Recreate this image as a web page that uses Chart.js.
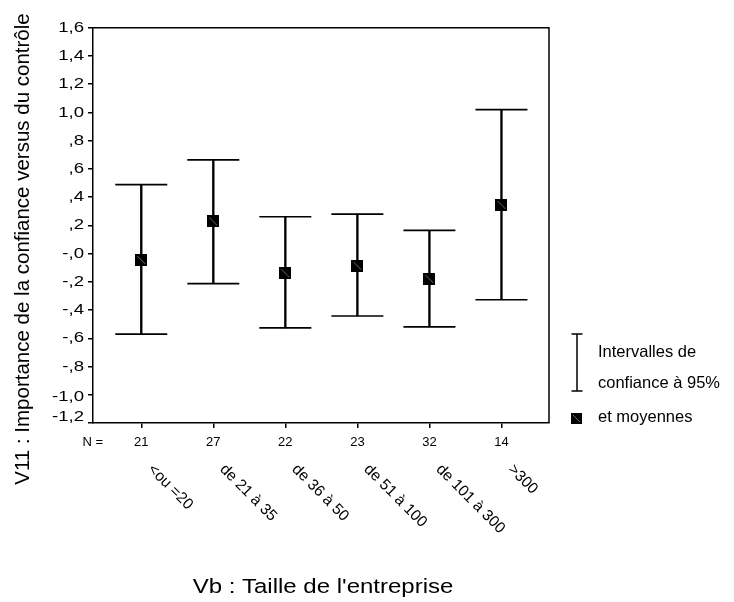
<!DOCTYPE html>
<html><head><meta charset="utf-8">
<script src="https://cdn.jsdelivr.net/npm/chart.js@4.4.1/dist/chart.umd.min.js"></script>
<style>html,body{margin:0;padding:0;background:#fff}#wrap{width:734px;height:602px}</style>
</head><body><div id="wrap"><canvas id="c" width="734" height="602"></canvas></div>
<script>
const categories = ['<ou =20', 'de 21 à 35', 'de 36 à 50', 'de 51 à 100', 'de 101 à 300', '>300'];
const nCounts = [21, 27, 22, 23, 32, 14];
const means = [-0.045, 0.228, -0.139, -0.087, -0.180, 0.345];
const ciLower = [-0.570, -0.213, -0.526, -0.442, -0.519, -0.327];
const ciUpper = [0.489, 0.664, 0.261, 0.279, 0.165, 1.019];
const yTickValues = [-1.2, -1.0, -0.8, -0.6, -0.4, -0.2, 0, 0.2, 0.4, 0.6, 0.8, 1.0, 1.2, 1.4, 1.6];
const yTickLabels = ['-1,2', '-1,0', '-,8', '-,6', '-,4', '-,2', '-,0', ',2', ',4', ',6', ',8', '1,0', '1,2', '1,4', '1,6'];
const yTitle = 'V11 : Importance de la confiance versus du contrôle';
const xTitle = "Vb : Taille de l'entreprise";
const nLabel = 'N =';
const legendCI = ['Intervalles de', 'confiance à 95%'];
const legendMean = 'et moyennes';

const FONT = '"Liberation Sans", Arial, sans-serif';

function makeMarker(size) {
  const c = document.createElement('canvas');
  c.width = size; c.height = size;
  const g = c.getContext('2d');
  g.fillStyle = '#000';
  g.fillRect(0, 0, size, size);
  g.strokeStyle = '#6a6a6a';
  g.lineWidth = 1;
  g.beginPath(); g.moveTo(2, 2); g.lineTo(size - 2, size - 2); g.stroke();
  return c;
}
const marker = makeMarker(12);
const legendMarker = makeMarker(11);

const decor = {
  id: 'decor',
  afterDraw(chart) {
    const ctx = chart.ctx;
    const a = chart.chartArea;
    const xs = chart.scales.x, ys = chart.scales.y;
    ctx.save();
    // frame top & right
    ctx.strokeStyle = '#000';
    ctx.lineWidth = 1.5;
    ctx.beginPath();
    ctx.moveTo(a.left, a.top); ctx.lineTo(a.right, a.top); ctx.lineTo(a.right, a.bottom);
    ctx.stroke();
    ctx.fillStyle = '#000';
    // y tick labels
    ctx.font = '15px ' + FONT;
    ctx.textAlign = 'right';
    ctx.textBaseline = 'middle';
    yTickValues.forEach((v, i) => {
      let y = ys.getPixelForValue(v);
      if (i === 0) y -= 6;
      if (i === 1) y += 2;
      ctx.save();
      ctx.translate(a.left - 9, y);
      ctx.scale(1.24, 1);
      ctx.fillText(yTickLabels[i], 0, 0);
      ctx.restore();
    });
    // N row
    ctx.font = '13px ' + FONT;
    ctx.textAlign = 'right';
    ctx.fillText(nLabel, a.left + 10, a.bottom + 19);
    ctx.textAlign = 'center';
    categories.forEach((c, i) => {
      ctx.fillText(String(nCounts[i]), xs.getPixelForValue(i + 1), a.bottom + 19);
    });
    // category labels rotated
    ctx.font = '15.5px ' + FONT;
    ctx.textAlign = 'left';
    ctx.textBaseline = 'middle';
    categories.forEach((c, i) => {
      ctx.save();
      ctx.translate(xs.getPixelForValue(i + 1) + 9, a.bottom + 44);
      ctx.rotate(Math.PI / 4);
      ctx.fillText(c, 0, 0);
      ctx.restore();
    });
    // x title
    ctx.font = '20px ' + FONT;
    ctx.textAlign = 'center';
    ctx.save();
    ctx.translate((a.left + a.right) / 2 + 2, 587);
    ctx.scale(1.2, 1);
    ctx.fillText(xTitle, 0, 0);
    ctx.restore();
    // y title
    ctx.font = '20.5px ' + FONT;
    ctx.save();
    ctx.translate(23, 249);
    ctx.rotate(-Math.PI / 2);
    ctx.fillText(yTitle, 0, 0);
    ctx.restore();
    // legend
    const lx = a.right + 28;
    ctx.lineWidth = 1.5;
    ctx.beginPath();
    ctx.moveTo(lx, 334); ctx.lineTo(lx, 391);
    ctx.moveTo(lx - 5.5, 334); ctx.lineTo(lx + 5.5, 334);
    ctx.moveTo(lx - 5.5, 391); ctx.lineTo(lx + 5.5, 391);
    ctx.stroke();
    ctx.drawImage(legendMarker, lx - 6, 413);
    ctx.font = '16.5px ' + FONT;
    ctx.textAlign = 'left';
    ctx.fillText(legendCI[0], lx + 21, 352);
    ctx.fillText(legendCI[1], lx + 21, 383);
    ctx.fillText(legendMean, lx + 21, 417);
    ctx.restore();
  }
};

new Chart(document.getElementById('c'), {
  type: 'bar',
  data: {
    datasets: [
      {
        type: 'bar',
        data: categories.map((c, i) => ({ x: i + 1, y: [ciLower[i], ciUpper[i]] })),
        backgroundColor: '#000',
        borderWidth: 0,
        barThickness: 1.7,
        grouped: false,
        order: 3
      },
      {
        type: 'scatter',
        data: categories.flatMap((c, i) => [{ x: i + 1, y: ciUpper[i] }, { x: i + 1, y: ciLower[i] }]),
        pointStyle: 'line',
        pointRadius: 26,
        pointBorderColor: '#000',
        pointBorderWidth: 1.7,
        pointHoverRadius: 26,
        order: 2
      },
      {
        type: 'scatter',
        data: categories.map((c, i) => ({ x: i + 1, y: means[i] })),
        pointStyle: marker,
        pointRadius: 6,
        order: 1
      }
    ]
  },
  options: {
    responsive: false,
    animation: false,
    devicePixelRatio: 1,
    layout: { padding: { top: 23, right: 185, left: 0, bottom: 0 } },
    plugins: { legend: { display: false }, tooltip: { enabled: false } },
    scales: {
      x: {
        type: 'linear', min: 0.33, max: 6.66, offset: false,
        afterBuildTicks: s => { s.ticks = categories.map((c, i) => ({ value: i + 1 })); },
        ticks: { display: false },
        grid: { offset: false, drawOnChartArea: false, drawTicks: true, tickLength: 5, color: '#000', lineWidth: 1.5 },
        border: { display: true, color: '#000', width: 1.5 },
        afterFit: s => { s.height = 179; }
      },
      y: {
        type: 'linear', min: -1.2, max: 1.6,
        afterBuildTicks: s => { s.ticks = yTickValues.map(v => ({ value: v })); },
        ticks: { display: false },
        grid: { drawOnChartArea: false, drawTicks: true, tickLength: 5, color: '#000', lineWidth: 1.5 },
        border: { display: true, color: '#000', width: 1.5 },
        afterFit: s => { s.width = 93; }
      }
    }
  },
  plugins: [decor]
});
</script></body></html>
